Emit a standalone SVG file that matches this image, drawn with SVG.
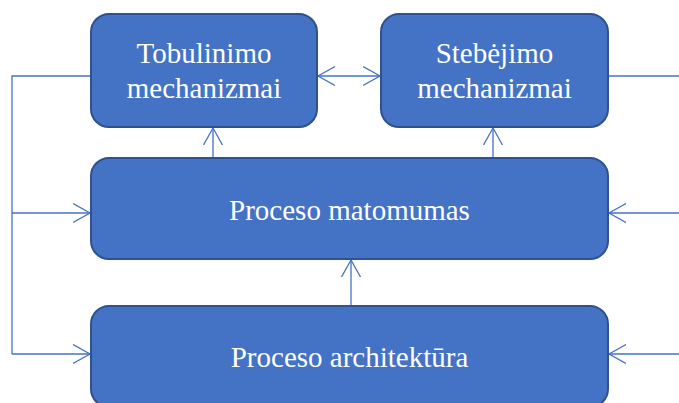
<svg xmlns="http://www.w3.org/2000/svg" width="679" height="403" viewBox="0 0 679 403">
<style>
.box{fill:#4472C4;stroke:#2F528F;stroke-width:2}
.lbl{font-family:"Liberation Serif","Times New Roman",serif;font-size:29px;fill:#fff;text-anchor:middle}
.c{fill:none;stroke:#4472C4;stroke-width:1.3}
</style>
<defs>
<marker id="ah" markerUnits="userSpaceOnUse" markerWidth="20" markerHeight="22" refX="17" refY="10" orient="auto-start-reverse" viewBox="0 0 20 22">
<path d="M0,0.5 L17,10 L0,19.5" fill="none" stroke="#4472C4" stroke-width="1.3"/>
</marker>
</defs>
<g id="connectors">
<path class="c" d="M91,76 H12 V354"/>
<path class="c" d="M12,213 H90" marker-end="url(#ah)"/>
<path class="c" d="M12,354 H90" marker-end="url(#ah)"/>
<path class="c" d="M318,76 H380" marker-start="url(#ah)" marker-end="url(#ah)"/>
<path class="c" d="M608,76 H679"/>
<path class="c" d="M679,213 H609" marker-end="url(#ah)"/>
<path class="c" d="M679,354 H609" marker-end="url(#ah)"/>
<path class="c" d="M213,158 V128" marker-end="url(#ah)"/>
<path class="c" d="M493,158 V128" marker-end="url(#ah)"/>
<path class="c" d="M351,306 V260" marker-end="url(#ah)"/>
</g>
<g id="tobulinimo">
<rect class="box" x="91" y="14" width="226" height="113" rx="18"/>
<text class="lbl" x="204" y="63">Tobulinimo</text>
<text class="lbl" x="204" y="98">mechanizmai</text>
</g>
<g id="stebejimo">
<rect class="box" x="381" y="14" width="227" height="113" rx="18"/>
<text class="lbl" x="494.5" y="63">Stebėjimo</text>
<text class="lbl" x="494.5" y="98">mechanizmai</text>
</g>
<g id="matomumas">
<rect class="box" x="91" y="158" width="517" height="101" rx="18"/>
<text class="lbl" x="349.5" y="220">Proceso matomumas</text>
</g>
<g id="architektura">
<rect class="box" x="91" y="306" width="517" height="101" rx="18"/>
<text class="lbl" x="349.5" y="367">Proceso architektūra</text>
</g>
</svg>
